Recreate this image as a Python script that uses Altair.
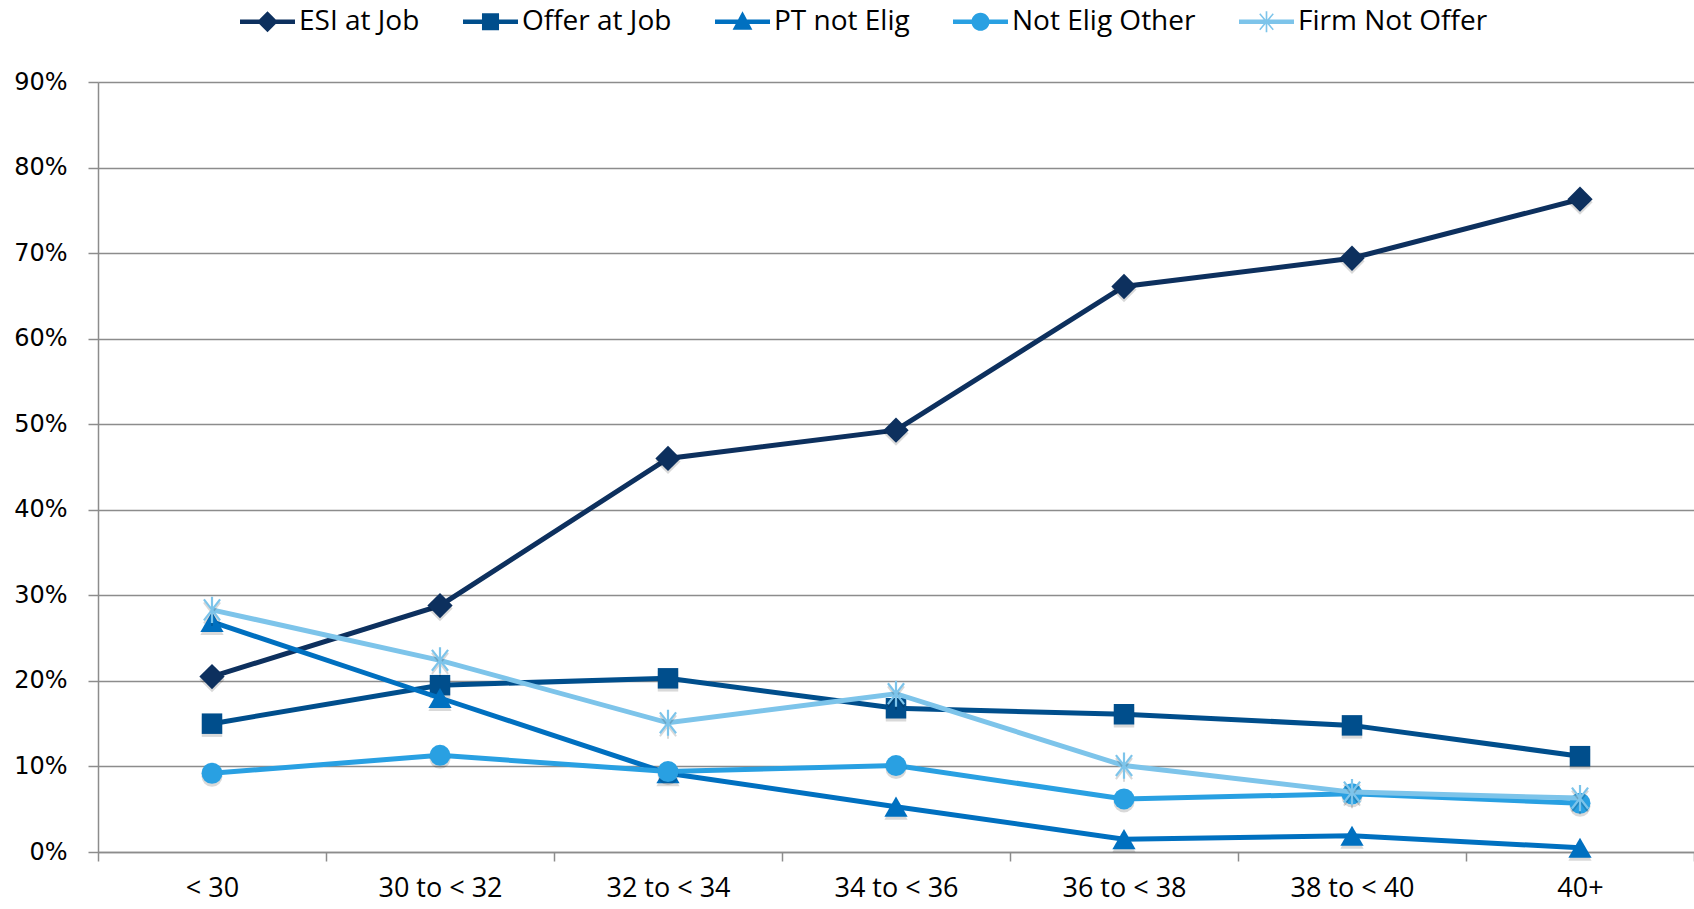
import altair as alt
import pandas as pd

# Hours-worked bands on the x axis
categories = ["< 30", "30 to < 32", "32 to < 34", "34 to < 36",
              "36 to < 38", "38 to < 40", "40+"]

series_names = ["ESI at Job", "Offer at Job", "PT not Elig",
                "Not Elig Other", "Firm Not Offer"]

# Percent of workers in each band
esi_at_job = [20.5, 28.8, 46.0, 49.3, 66.1, 69.4, 76.3]
offer_at_job = [15.0, 19.5, 20.3, 16.8, 16.1, 14.8, 11.2]
pt_not_elig = [26.9, 18.0, 9.2, 5.3, 1.5, 1.9, 0.5]
not_elig_other = [9.2, 11.3, 9.4, 10.1, 6.2, 6.8, 5.7]
firm_not_offer = [28.3, 22.4, 15.1, 18.5, 10.1, 7.0, 6.3]

series_colors = ["#0d305e", "#004e8c", "#0070c0", "#29a0e2", "#7dc4ea"]

y_ticks = [0, 0.1, 0.2, 0.3, 0.4, 0.5, 0.6, 0.7, 0.8, 0.9]

rows = []
for name, vals in zip(series_names, [esi_at_job, offer_at_job, pt_not_elig,
                                     not_elig_other, firm_not_offer]):
    for band, v in zip(categories, vals):
        rows.append({"band": band, "series": name, "share": v / 100.0})
df = pd.DataFrame(rows)

GRID = "#8c8c8c"

# Plot markers per series: (shape, filled, size)
asterisk = "M0,-1V1M-0.62,-0.8L0.62,0.8M-0.62,0.8L0.62,-0.8"
marker_shapes = {
    "ESI at Job": ("diamond", True, 640),
    "Offer at Job": ("square", True, 420),
    "PT not Elig": ("triangle-up", True, 540),
    "Not Elig Other": ("circle", True, 440),
    "Firm Not Offer": (asterisk, False, 680),
}

# Legend symbols: a line segment with the series marker on top of it
seg = "M-1,-0.08H1V0.08H-1Z"
legend_paths = [
    seg + "M0,-0.38L0.38,0L0,0.38L-0.38,0Z",
    seg + "M-0.31,-0.31H0.31V0.31H-0.31Z",
    seg + "M0,-0.38L0.36,0.29H-0.36Z",
    seg + "M-0.33,0A0.33,0.33 0 1,1 0.33,0A0.33,0.33 0 1,1 -0.33,0Z",
    seg
    + "M-0.03,-0.38H0.03V0.38H-0.03Z"
    + "M-0.224,-0.307L0.266,0.271L0.224,0.307L-0.266,-0.271Z"
    + "M0.224,-0.307L0.266,-0.271L-0.224,0.307L-0.266,0.271Z",
]

legend = alt.Legend(
    orient="none",
    legendX=142,
    legendY=-88,
    direction="horizontal",
    columns=5,
    title=None,
    padding=0,
    symbolSize=3025,
    symbolStrokeWidth=0,
    symbolOpacity=1,
    labelFont="Open Sans",
    labelFontSize=28,
    labelColor="black",
    labelOffset=4,
    labelLimit=400,
    columnPadding=43,
)

x_enc = alt.X(
    "band:N",
    sort=categories,
    scale=alt.Scale(type="band", domain=categories, paddingInner=0, paddingOuter=0),
    axis=alt.Axis(
        title=None,
        tickBand="extent",
        grid=False,
        labelAngle=0,
        domainColor=GRID,
        domainWidth=1.5,
        tickColor=GRID,
        tickWidth=1.5,
        tickSize=9,
        labelFont="Open Sans",
        labelFontSize=27,
        labelColor="black",
        labelPadding=14,
    ),
)

y_enc = alt.Y(
    "share:Q",
    scale=alt.Scale(domain=[0, 0.9], nice=False),
    axis=alt.Axis(
        title=None,
        values=y_ticks,
        format=".0%",
        grid=True,
        gridColor=GRID,
        gridWidth=1.5,
        domainColor=GRID,
        domainWidth=1.5,
        tickColor=GRID,
        tickWidth=1.5,
        tickSize=10,
        labelFont="DejaVu Sans",
        labelFontSize=24,
        labelColor="black",
        labelPadding=21,
    ),
)

layers = []
for name, col in zip(series_names, series_colors):
    base = alt.Chart(df).transform_filter(alt.datum.series == name)
    shape, filled, size = marker_shapes[name]
    line = base.mark_line(strokeWidth=5, color=col).encode(x=x_enc, y=y_enc)
    shadow = base.mark_point(
        shape=shape, filled=filled, size=size, color="#000000",
        opacity=0.15, yOffset=3, strokeWidth=2,
    ).encode(x=x_enc, y=y_enc)
    if filled:
        pts = base.mark_point(shape=shape, filled=True, size=size,
                              opacity=1, color=col)
    else:
        pts = base.mark_point(shape=shape, filled=False, size=size,
                              strokeWidth=2.2, opacity=1, color=col)
    pts = pts.encode(x=x_enc, y=y_enc)
    layers += [line, shadow, pts]

# Legend layer: no rows are drawn, the entries come from the scale domains
legend_layer = (
    alt.Chart(df)
    .transform_filter("false")
    .mark_point(filled=True)
    .encode(
        x=x_enc,
        y=y_enc,
        color=alt.Color(
            "series:N",
            scale=alt.Scale(domain=series_names, range=series_colors),
            legend=legend,
        ),
        shape=alt.Shape(
            "series:N",
            scale=alt.Scale(domain=series_names, range=legend_paths),
            legend=legend,
        ),
    )
)
layers.append(legend_layer)

chart = alt.layer(*layers).properties(
    width=1596,
    height=770,
    autosize=alt.AutoSizeParams(type="none"),
    padding={"left": 98, "top": 82, "right": 0, "bottom": 57},
    background="white",
).configure_view(stroke=None)

chart.save("out.html", embed_options={"renderer": "svg", "actions": False})
